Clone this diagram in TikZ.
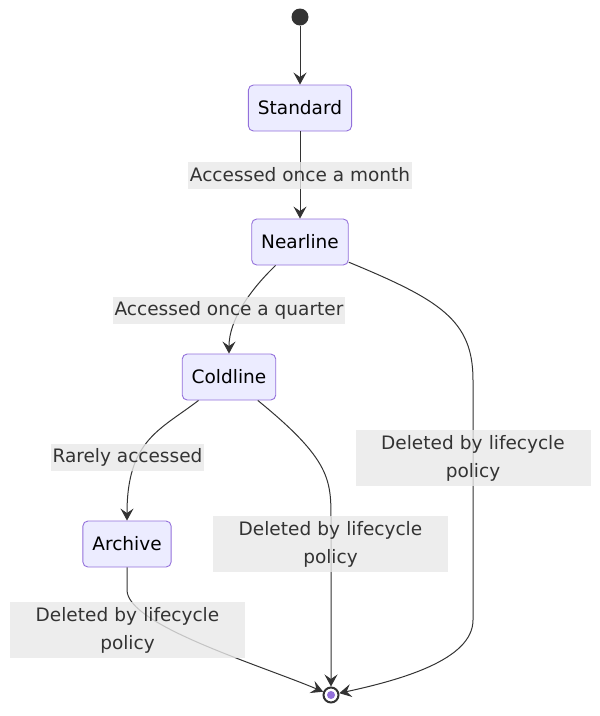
\documentclass[tikz,border=0pt]{standalone}
\usepackage{fontspec}
\setmainfont{DejaVu Sans}
\usetikzlibrary{arrows.meta,positioning}
\definecolor{stfill}{HTML}{ECECFF}
\definecolor{stline}{HTML}{9370DB}
\definecolor{edgec}{HTML}{333333}
\definecolor{lblfill}{HTML}{E8E8E8}

\begin{document}
\begin{tikzpicture}[x=1pt,y=-1pt,
  state/.style={draw=stline, fill=stfill, rounded corners=5pt, line width=0.9pt,
    minimum height=46pt, inner xsep=9.5pt, font=\fontsize{18.5}{22}\selectfont},
  lbl/.style={fill=lblfill, fill opacity=0.8, text opacity=1, text=edgec, inner xsep=2pt,
    inner ysep=0pt, minimum height=27pt, font=\fontsize{18.5}{28}\selectfont},
  lbltwo/.style={lbl, text width=231pt, align=center, minimum height=56pt},
  trans/.style={draw=edgec, line width=1pt, -{Stealth[length=12pt,width=13pt,inset=4.5pt]}}]
\useasboundingbox (0,0) rectangle (600,716);
% states
\node[circle, fill=edgec, minimum size=17pt, inner sep=0pt] (start) at (300,17) {};
\node[state] (std) at (300,108) {Standard};
\node[state] (nl) at (300,242) {Nearline};
\node[state] (cl) at (229,377) {Coldline};
\node[state] (ar) at (127,544) {Archive};
\node[circle, draw=edgec, fill=white, line width=2pt, minimum size=15pt, inner sep=0pt] (end) at (331,695) {};
\fill[stline] (end) circle (4pt);
% transitions
\draw[trans] (start) -- (std);
\draw[trans] (std) -- (nl);
\draw[trans] (nl) .. controls (250,290) and (229,320) .. (cl);
\draw[trans] (cl) .. controls (160,430) and (127,440) .. (ar);
\draw[trans] (cl) .. controls (331,460) and (331,480) .. (331,520) -- (end);
\draw[trans] (nl) .. controls (440,300) and (473,320) .. (473,380) -- (473,620)
  .. controls (473,660) and (400,680) .. (end);
\draw[trans] (ar) -- (127,590) .. controls (127,625) and (260,665) .. (end);
% labels
\node[lbl] (lbmonth) at (300,175) {Accessed once a month};
\node[lbl] (lbquarter) at (229,310) {Accessed once a quarter};
\node[lbl] (lbrare) at (127.5,457) {Rarely accessed};
\foreach \n/\x/\y in {lbdela/127.5/630, lbdelc/330.5/544, lbdeln/473/458}
  \node[lbltwo] (\n) at (\x,\y) {Deleted by lifecycle\\policy};
\end{tikzpicture}
\end{document}
